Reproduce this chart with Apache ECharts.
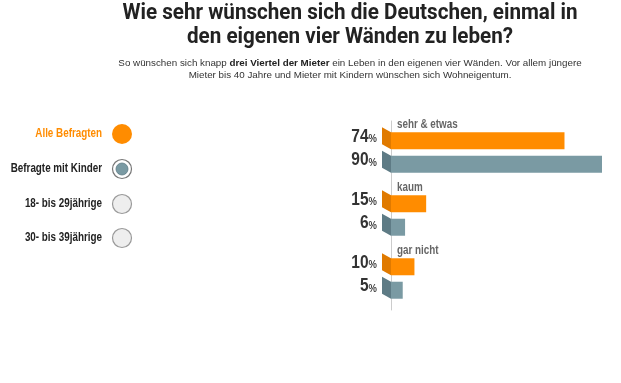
<!DOCTYPE html>
<html>
<head>
<meta charset="utf-8">
<script src="https://cdn.jsdelivr.net/npm/echarts@6/dist/echarts.min.js"></script>
<style>
html,body{margin:0;padding:0;background:#fff;}
#c{width:621px;height:383px;}
</style>
</head>
<body>
<div id="c"></div>
<script>
// ---- data ----
const categories = ['sehr & etwas', 'kaum', 'gar nicht'];
const seriesNames = ['Alle Befragten', 'Befragte mit Kinder'];
const allValues = [74, 15, 10];
const kinderValues = [90, 6, 5];
const groupOptions = ['Alle Befragten', 'Befragte mit Kinder', '18- bis 29jährige', '30- bis 39jährige'];
const titleLines = ['Wie sehr wünschen sich die Deutschen, einmal in', 'den eigenen vier Wänden zu leben?'];
const subtitleText = 'So wünschen sich knapp {b|drei Viertel der Mieter} ein Leben in den eigenen vier Wänden. Vor allem jüngere\nMieter bis 40 Jahre und Mieter mit Kindern wünschen sich Wohneigentum.';

const ORANGE = '#FF8C00', ORANGE_D = '#E07A00';
const SLATE = '#7A9AA3', SLATE_D = '#5E7B85';
const SANS = '"Liberation Sans", Arial, sans-serif';
const TITLE_FONT = 'bold 22px Roboto, "Liberation Sans", sans-serif';
const BAR_W = 17, BAR_GAP = 0.38;
const NARROW_X = 0.82;

// measure title to emulate a condensed face
const mctx = document.createElement('canvas').getContext('2d');
mctx.font = TITLE_FONT;
const titleScale = 455 / mctx.measureText(titleLines[0]).width;

function makeDecor(values, sign, showCat, dark) {
  return {
    type: 'custom',
    silent: true,
    data: values.map((v, i) => [i, v]),
    encode: { x: 1, y: 0 },
    renderItem: function (params, api) {
      const cat = api.value(0);
      const val = api.value(1);
      const c = api.coord([0, cat]);
      const off = (BAR_W + BAR_W * BAR_GAP) / 2;
      const cy = c[1] + sign * off;
      const x0 = c[0];
      const top = cy - BAR_W / 2, bot = cy + BAR_W / 2;
      const children = [
        { type: 'polygon', shape: { points: [[x0 - 9, top - 5], [x0, top], [x0, bot], [x0 - 9, bot - 5]] }, style: { fill: dark } },
        { type: 'text', x: x0 - 14, y: cy - 4, scaleX: 0.86,
          style: { x: 0, y: 0, text: '{n|' + val + '}{p|%}', align: 'right', verticalAlign: 'middle',
            rich: { n: { font: 'bold 18px ' + SANS, fill: '#333', verticalAlign: 'bottom' },
                    p: { font: 'bold 11px ' + SANS, fill: '#444', verticalAlign: 'bottom', padding: [0, 0, 1, 0] } } } }
      ];
      if (showCat) {
        children.push({ type: 'text', x: x0 + 6, y: top - 8, scaleX: NARROW_X,
          style: { x: 0, y: 0, text: categories[cat], align: 'left', verticalAlign: 'middle',
            font: 'bold 12px ' + SANS, fill: '#666' } });
      }
      return { type: 'group', children: children };
    }
  };
}

const graphics = [];
// title (two lines, condensed by horizontal scaling)
titleLines.forEach((line, i) => {
  graphics.push({ type: 'text', x: 350, y: 13 + i * 24, scaleX: titleScale,
    style: { x: 0, y: 0, text: line, align: 'center', verticalAlign: 'middle', font: TITLE_FONT, fill: '#222' } });
});
// subtitle
graphics.push({ type: 'text', x: 350, y: 69,
  style: { x: 0, y: 0, text: subtitleText, align: 'center', verticalAlign: 'middle',
    font: '9.8px ' + SANS, lineHeight: 12, fill: '#333',
    rich: { b: { font: 'bold 9.8px ' + SANS, lineHeight: 12, fill: '#222' } } } });

// left selector (radio buttons)
const selY = [134, 169, 204, 238];
groupOptions.forEach((name, i) => {
  const y = selY[i];
  graphics.push({ type: 'text', x: 102, y: y, scaleX: NARROW_X,
    style: { x: 0, y: 0, text: name, align: 'right', verticalAlign: 'middle',
      font: 'bold 12px ' + SANS, fill: i === 0 ? ORANGE : '#222' } });
  if (i === 0) {
    graphics.push({ type: 'circle', shape: { cx: 122, cy: y, r: 10 }, style: { fill: ORANGE } });
  } else if (i === 1) {
    graphics.push({ type: 'circle', shape: { cx: 122, cy: y, r: 9.5 }, style: { fill: '#fff', stroke: '#777', lineWidth: 1.2 } });
    graphics.push({ type: 'circle', shape: { cx: 122, cy: y, r: 6 }, style: { fill: SLATE, stroke: SLATE_D, lineWidth: 0.8 } });
  } else {
    graphics.push({ type: 'circle', shape: { cx: 122, cy: y, r: 9.5 }, style: { fill: '#eee', stroke: '#999', lineWidth: 1.2 } });
  }
});

const chart = echarts.init(document.getElementById('c'), null, { renderer: 'canvas' });
chart.setOption({
  animation: false,
  backgroundColor: '#fff',
  grid: { left: 391, top: 121, width: 211, height: 189, containLabel: false },
  xAxis: { type: 'value', min: 0, max: 90, show: false },
  yAxis: { type: 'category', data: categories, inverse: true,
    axisLine: { show: true, lineStyle: { color: '#ccc', width: 1 } },
    axisTick: { show: false }, axisLabel: { show: false }, splitLine: { show: false } },
  series: [
    { name: seriesNames[0], type: 'bar', data: allValues, barWidth: BAR_W, barGap: (BAR_GAP * 100) + '%', itemStyle: { color: ORANGE }, z: 3 },
    { name: seriesNames[1], type: 'bar', data: kinderValues, barWidth: BAR_W, itemStyle: { color: SLATE }, z: 3 },
    makeDecor(allValues, -1, true, ORANGE_D),
    makeDecor(kinderValues, 1, false, SLATE_D)
  ],
  graphic: graphics
});
</script>
</body>
</html>
